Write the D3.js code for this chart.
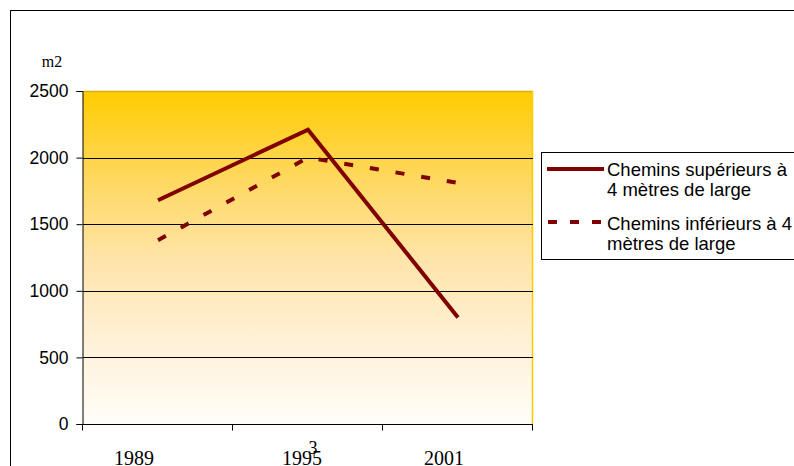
<!DOCTYPE html>
<html><head><meta charset="utf-8">
<script src="https://cdn.jsdelivr.net/npm/d3@7"></script>
<style>html,body{margin:0;padding:0;background:#fff;overflow:hidden}</style>
</head><body>
<svg id="c" width="794" height="466"></svg>
<script>
const years = ["1989", "1995", "2001"];
const superieurs = [1680, 2210, 800];
const inferieurs = [1380, 2000, 1810];
const yTicks = [0, 500, 1000, 1500, 2000, 2500];
const seriesNames = [["Chemins supérieurs à", "4 mètres de large"], ["Chemins inférieurs à 4", "mètres de large"]];
const unitLabel = "m2";

const svg = d3.select("#c");
const m = {left: 83, right: 533, top: 91, bottom: 424};

const defs = svg.append("defs");
const grad = defs.append("linearGradient").attr("id", "g").attr("x1", 0).attr("y1", 0).attr("x2", 0).attr("y2", 1);
[["0%", "#FFCC00"], ["25%", "#FFD75A"], ["50%", "#FFE4A8"], ["75%", "#FFF1D8"], ["100%", "#FFFDF8"]]
  .forEach(([o, c]) => grad.append("stop").attr("offset", o).attr("stop-color", c));

// outer frame
svg.append("rect").attr("x", 10.5).attr("y", 10.5).attr("width", 820).attr("height", 500)
  .attr("fill", "none").attr("stroke", "#000").attr("stroke-width", 1);

const x = d3.scaleBand().domain(years).range([m.left, m.right]).padding(0);
const y = d3.scaleLinear().domain([0, 2500]).range([m.bottom, m.top]);

// plot area
svg.append("rect").attr("x", m.left).attr("y", m.top).attr("width", m.right - m.left).attr("height", m.bottom - m.top)
  .attr("fill", "url(#g)");
svg.append("line").attr("x1", m.left).attr("x2", m.right).attr("y1", m.top + 0.5).attr("y2", m.top + 0.5)
  .attr("stroke", "#D9AE00").attr("stroke-width", 1.5);
svg.append("line").attr("x1", m.right - 0.5).attr("x2", m.right - 0.5).attr("y1", m.top).attr("y2", m.bottom)
  .attr("stroke", "#FFCC00").attr("stroke-width", 1.5);

// gridlines
svg.append("g").selectAll("line").data(yTicks.filter(d => d > 0 && d < 2500)).join("line")
  .attr("x1", m.left).attr("x2", m.right)
  .attr("y1", d => Math.round(y(d)) + 0.5).attr("y2", d => Math.round(y(d)) + 0.5)
  .attr("stroke", "#000").attr("stroke-width", 1);

// y axis
const yAxis = d3.axisLeft(y).tickValues(yTicks).tickSize(6).tickPadding(8).tickFormat(d3.format("d"));
const ya = svg.append("g").attr("transform", `translate(${m.left - 0.5},0)`).call(yAxis);
ya.select(".domain").attr("stroke", "#000");
ya.selectAll(".tick line").attr("stroke", "#000");
ya.selectAll("text").attr("font-family", "Liberation Sans, Arial, sans-serif").attr("font-size", "17.5px").attr("fill", "#000");

// x axis
const xAxis = d3.axisBottom(x).tickSize(0).tickPadding(0).tickFormat("");
const xa = svg.append("g").attr("transform", `translate(0,${m.bottom + 0.5})`).call(xAxis);
xa.select(".domain").attr("stroke", "#000").attr("d", `M${m.left},0H${m.right}`);
const bounds = [...years.map(d => x(d)), m.right];
xa.selectAll(".bt").data(bounds).join("line").attr("class", "bt")
  .attr("x1", d => Math.round(d) - 0.5).attr("x2", d => Math.round(d) - 0.5).attr("y1", 0).attr("y2", 6).attr("stroke", "#000");
// year labels (placed as in the original, shifted left of category centres)
const labelShift = [-24, -6, -14];
svg.append("g").selectAll("text").data(years).join("text")
  .attr("x", (d, i) => x(d) + x.bandwidth() / 2 + labelShift[i]).attr("y", 465)
  .attr("text-anchor", "middle").attr("font-family", "Liberation Serif, Times New Roman, serif").attr("font-size", "20px")
  .text(d => d);
// stray glyph over 1995
svg.append("text").attr("x", x("1995") + x.bandwidth() / 2 + 5).attr("y", 454).attr("text-anchor", "middle")
  .attr("font-family", "Liberation Serif, serif").attr("font-size", "18px").text("3");

svg.append("text").attr("x", 52).attr("y", 67).attr("text-anchor", "middle")
  .attr("font-family", "Liberation Serif, Times New Roman, serif").attr("font-size", "16px").text(unitLabel);

// lines
const cx = d => x(d) + x.bandwidth() / 2;
const line = d3.line().x(d => cx(d.k)).y(d => y(d.v));
svg.append("path").datum(years.map((k, i) => ({k, v: inferieurs[i]})))
  .attr("d", line).attr("fill", "none").attr("stroke", "#800000").attr("stroke-width", 4)
  .attr("stroke-dasharray", "9,17");
svg.append("path").datum(years.map((k, i) => ({k, v: superieurs[i]})))
  .attr("d", line).attr("fill", "none").attr("stroke", "#800000").attr("stroke-width", 4)
  .attr("stroke-linejoin", "miter");

// legend
const lg = svg.append("g");
lg.append("rect").attr("x", 541.5).attr("y", 152.5).attr("width", 300).attr("height", 107)
  .attr("fill", "#fff").attr("stroke", "#000").attr("stroke-width", 1);
lg.append("line").attr("x1", 547).attr("x2", 604).attr("y1", 169).attr("y2", 169)
  .attr("stroke", "#800000").attr("stroke-width", 4);
lg.append("line").attr("x1", 548).attr("x2", 604).attr("y1", 222).attr("y2", 222)
  .attr("stroke", "#800000").attr("stroke-width", 4).attr("stroke-dasharray", "9,13");
const baselines = [[176, 196], [230, 250]];
seriesNames.forEach((lines, i) => {
  lines.forEach((t, j) => {
    lg.append("text").attr("x", 607).attr("y", baselines[i][j])
      .attr("font-family", "Liberation Sans, Arial, sans-serif").attr("font-size", "18.5px").attr("fill", "#000").text(t);
  });
});
</script>
</body></html>
